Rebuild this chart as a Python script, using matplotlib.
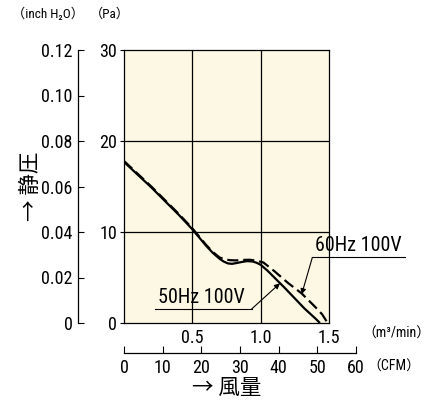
import numpy as np
import matplotlib
matplotlib.use("Agg")
import matplotlib.pyplot as plt
from matplotlib import font_manager

# pick a narrow latin face if one is installed
fonts = font_manager.fontManager.ttflist
names = {f.name for f in fonts}
latin = 'DejaVu Sans'
for cand in ['Liberation Sans Narrow', 'Roboto Condensed', 'Open Sans Condensed']:
    if cand in names:
        latin = cand
        break
if latin == 'DejaVu Sans' and any(f.name == 'DejaVu Sans' and f.stretch == 'condensed' for f in fonts):
    plt.rcParams['font.stretch'] = 'condensed'
plt.rcParams['font.family'] = [latin, 'Noto Sans CJK JP', 'DejaVu Sans']

# static pressure curves (x: m3/min, y: Pa)
x50 = [0, 0.1, 0.2, 0.3, 0.4, 0.5, 0.55, 0.6, 0.65, 0.7, 0.73, 0.76, 0.79, 0.82,
       0.86, 0.9, 0.94, 0.97, 1.0, 1.05, 1.1, 1.18, 1.25, 1.32, 1.4, 1.434]
y50 = [17.7, 16.3, 14.9, 13.4, 11.9, 10.3, 9.4, 8.5, 7.7, 7.05, 6.75, 6.55, 6.5, 6.58,
       6.7, 6.8, 6.76, 6.62, 6.4, 5.75, 5.0, 3.8, 2.7, 1.6, 0.5, 0.0]
x60 = [0, 0.1, 0.2, 0.3, 0.4, 0.5, 0.55, 0.6, 0.65, 0.7, 0.74, 0.78, 0.82, 0.87,
       0.92, 0.97, 1.02, 1.1, 1.2, 1.3, 1.4, 1.45, 1.49]
y60 = [17.8, 16.4, 15.0, 13.5, 12.0, 10.4, 9.5, 8.6, 7.8, 7.2, 6.98, 6.9, 6.88, 6.93,
       6.95, 6.85, 6.65, 5.7, 4.4, 3.25, 1.75, 0.95, 0.0]

pa_ticks = [0, 10, 20, 30]
inch_ticks = [0, 0.02, 0.04, 0.06, 0.08, 0.10, 0.12]
inch_labels = ['0', '0.02', '0.04', '0.06', '0.08', '0.10', '0.12']
flow_ticks = [0.5, 1.0, 1.5]
flow_labels = ['0.5', '1.0', '1.5']
cfm_ticks = [0, 10, 20, 30, 40, 50, 60]

W, H = 436, 400
fig = plt.figure(figsize=(W / 100, H / 100), dpi=100)


def box(l, t, r, b):
    # pixel box -> figure fraction
    return [l / W, 1 - b / H, (r - l) / W, (b - t) / H]


ax = fig.add_axes(box(124, 50, 329, 323))
ax.set_facecolor('#fcf8e3')
ax.set_xlim(0, 1.5)
ax.set_ylim(0, 30)
ax.set_xticks(flow_ticks)
ax.set_xticklabels(flow_labels)
ax.set_yticks(pa_ticks)
ax.tick_params(axis='x', length=0, pad=4, labelsize=13)
ax.tick_params(axis='y', length=3, width=0.8, pad=2, labelsize=13)
for s in ax.spines.values():
    s.set_linewidth(0.9)
for v in [0.5, 1.0]:
    ax.axvline(v, color='black', lw=0.9)
for v in [10, 20]:
    ax.axhline(v, color='black', lw=0.9)

ax.plot(x50, y50, color='black', lw=1.6, solid_capstyle='butt')
ax.plot(x60, y60, color='black', lw=1.6, ls=(0, (5, 2.2)))

# labels with leader lines
ax.plot([1.378, 2.056], [7.2, 7.2], color='black', lw=0.8, clip_on=False)
ax.text(1.40, 7.5, '60Hz 100V', fontsize=14.5, ha='left', va='bottom')
ax.annotate('', xy=(1.30, 3.15), xytext=(1.378, 7.2),
            arrowprops=dict(arrowstyle='-|>', lw=0.8, color='black',
                            mutation_scale=8, shrinkA=0, shrinkB=0))
ax.plot([0.227, 0.934], [1.54, 1.54], color='black', lw=0.8)
ax.text(0.25, 1.75, '50Hz 100V', fontsize=14.5, ha='left', va='bottom')
ax.annotate('', xy=(1.141, 4.36), xytext=(0.934, 1.54),
            arrowprops=dict(arrowstyle='-|>', lw=0.8, color='black',
                            mutation_scale=8, shrinkA=0, shrinkB=0))

# inch H2O axis
axi = fig.add_axes(box(78, 50, 79, 323))
axi.set_ylim(0, 0.12)
axi.set_yticks(inch_ticks)
axi.set_yticklabels(inch_labels)
axi.set_xticks([])
axi.patch.set_visible(False)
for k in ['top', 'right', 'bottom']:
    axi.spines[k].set_visible(False)
axi.spines['left'].set_linewidth(0.9)
axi.tick_params(axis='y', direction='in', length=4, width=0.8, pad=4, labelsize=13)

# CFM axis
axc = fig.add_axes(box(124, 343, 356, 353))
axc.set_xlim(0, 60)
axc.set_xticks(cfm_ticks)
axc.set_yticks([])
axc.patch.set_visible(False)
for k in ['top', 'right', 'left']:
    axc.spines[k].set_visible(False)
axc.spines['bottom'].set_linewidth(0.9)
axc.tick_params(axis='x', direction='in', length=5, width=0.8, pad=4, labelsize=13)

# unit and axis titles
fig.text(12 / W, 1 - 14 / H, '（inch H₂O）', fontsize=9.5, ha='left', va='center')
fig.text(90 / W, 1 - 14 / H, '（Pa）', fontsize=9.5, ha='left', va='center')
fig.text(362 / W, 1 - 334 / H, '（m³/min）', fontsize=10, ha='left', va='center')
fig.text(367 / W, 1 - 367 / H, '（CFM）', fontsize=10, ha='left', va='center')
fig.text(227 / W, 1 - 388 / H, '→ 風量', fontsize=15.5, ha='center', va='center')
fig.text(31 / W, 1 - 186 / H, '→ 静圧', fontsize=15.5, ha='center', va='center',
         rotation=90)

fig.savefig('out.png', dpi=100)
